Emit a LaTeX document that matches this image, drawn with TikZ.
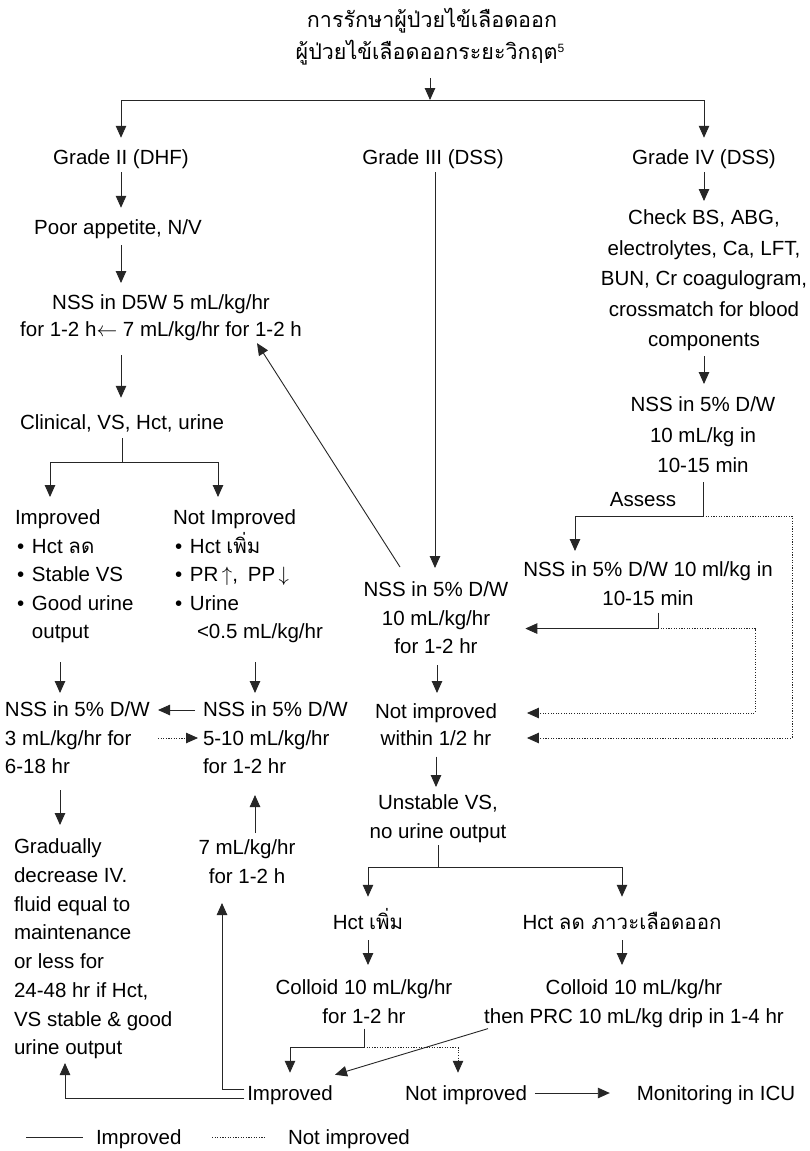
\documentclass[tikz,border=0pt]{standalone}
\usepackage{fontspec}
\setmainfont{Liberation Sans}
\newfontfamily\thai[Script=Thai]{Loma}
\usetikzlibrary{arrows.meta,calc}
\newcommand{\bul}{\makebox[17pt][l]{\hspace{2pt}\textbullet}}
\begin{document}
\begin{tikzpicture}[x=1pt,y=-1pt,
  every node/.style={inner sep=0pt, outer sep=0pt, font=\fontsize{20.5}{28.5}\selectfont},
  sl/.style={text height=14.5pt, text depth=4pt},
  ml/.style={align=center, anchor=north},
  mll/.style={align=left, anchor=north west},
  ln/.style={line width=0.9pt, draw=black!85},
  arr/.style={ln, -{Triangle[length=12pt,width=10.5pt]}},
  dot/.style={ln, line width=0.8pt, dash pattern=on 1.1pt off 1.5pt},
  darr/.style={dot, -{Triangle[length=12pt,width=10.5pt]}},
  ttl/.style={font=\fontsize{21.5}{30}\selectfont},
]
\fill[white] (0,0) rectangle (810,1151);
\useasboundingbox (0,0) rectangle (810,1151);

% title
\node[ttl] (t1) at (432,21) {\thai การรักษาผู้ป่วยไข้เลือดออก};
\node[ttl] (t2) at (430,53) {{\thai ผู้ป่วยไข้เลือดออกระยะวิกฤต}\raisebox{7pt}{\fontsize{12}{12}\selectfont 5}};
\coordinate (hub) at (430,100);

% grades
\node[sl] (g2) at (121,159) {Grade II (DHF)};
\node[sl] (g3) at (433,159) {Grade III (DSS)};
\node[sl] (g4) at (704,159) {Grade IV (DSS)};
\draw[arr] (hub) ++(0,-22) -- (hub);
\draw[ln] (hub -| g2) -- (hub -| g4);
\draw[arr] (hub -| g2) -- ([yshift=12pt]g2.north);
\draw[arr] (hub -| g4) -- ([yshift=12pt]g4.north);

% Grade II column
\node[sl] (poor) at (118,229) {Poor appetite, N/V};
\draw[arr] ([yshift=-4pt]g2.south) -- ([yshift=12pt]g2.south |- poor.north);
\node[ml, font=\fontsize{20.5}{27}\selectfont] (nssA) at (161,295) {NSS in D5W 5 mL/kg/hr\\for 1-2 h$\leftarrow$ 7 mL/kg/hr for 1-2 h};
\draw[arr] ([yshift=-7pt]g2.south |- poor.south) -- ([yshift=12pt]g2.south |- nssA.north);
\node[sl] (clin) at (122,424) {Clinical, VS, Hct, urine};
\draw[arr] ([yshift=-14pt]g2.south |- nssA.south) -- ([yshift=17pt]g2.south |- clin.north);
\draw[ln] ([yshift=-5pt]clin.south) -- ([yshift=-29pt]clin.south) coordinate (b1);
\node[mll] (imp) at (15,510) {Improved\\\bul Hct {\thai ลด}\\\bul Stable VS\\\bul Good urine\\\hspace*{17pt}output};
\node[mll] (nimp) at (173,510) {Not Improved\\\bul Hct {\thai เพิ่ม}\\\bul PR\,$\uparrow$,\hspace{10pt}PP\,$\downarrow$\\\bul Urine\\\hspace*{24pt}<0.5 mL/kg/hr};
\draw[arr] (b1) -| ([xshift=35pt,yshift=13pt]imp.north west);
\draw[arr] (b1) -| ([xshift=45pt,yshift=13pt]nimp.north west);

\node[mll] (nssL) at (5,702) {NSS in 5\% D/W\\3 mL/kg/hr for\\6-18 hr};
\node[mll] (nssM) at (203,702) {NSS in 5\% D/W\\5-10 mL/kg/hr\\for 1-2 hr};
\draw[arr] ([xshift=45pt,yshift=-19pt]imp.south west) -- ([xshift=55pt,yshift=9pt]nssL.north west);
\draw[arr] ([xshift=82pt,yshift=-19pt]nimp.south west) -- ([xshift=52pt,yshift=9pt]nssM.north west);
\draw[arr] ([xshift=-8pt,yshift=-8pt]nssM.north west) -- ([xshift=153pt,yshift=-8pt]nssL.north west);
\draw[darr] ([xshift=153pt,yshift=-36pt]nssL.north west) -- ([xshift=-5pt,yshift=-36pt]nssM.north west);

\node[mll, font=\fontsize{20.5}{28.7}\selectfont] (grad) at (14,839) {Gradually\\decrease IV.\\fluid equal to\\maintenance\\or less for\\24-48 hr if Hct,\\VS stable \& good\\urine output};
\draw[arr] ([xshift=55pt,yshift=-88pt]nssL.north west) -- ([xshift=46pt,yshift=14pt]grad.north west);
\node[ml] (sev) at (247,840) {7 mL/kg/hr\\for 1-2 h};
\draw[arr] ([xshift=8pt,yshift=7pt]sev.north) -- ([xshift=52pt,yshift=-93pt]nssM.north west);

% Grade III column
\node[ml] (nssC) at (436,582) {NSS in 5\% D/W\\10 mL/kg/hr\\for 1-2 hr};
\draw[arr] ([xshift=2pt,yshift=-4pt]g3.south) -- ([xshift=2pt,yshift=14pt]g3.south |- nssC.north);
\draw[arr] ([xshift=-36pt,yshift=15pt]nssC.north) -- ([xshift=96pt,yshift=-2pt]nssA.south);
\node[ml, font=\fontsize{20.5}{26.5}\selectfont] (ni) at (436,704) {Not improved\\within 1/2 hr};
\draw[arr] ([xshift=1pt,yshift=-11pt]nssC.south) -- ([xshift=1pt,yshift=11pt]nssC.south |- ni.north);
\node[ml, font=\fontsize{20.5}{29}\selectfont] (unst) at (438,795) {Unstable VS,\\no urine output};
\draw[arr] ([yshift=-11pt]ni.south) -- ([yshift=8pt]ni.south |- unst.north);
\draw[ln] ([yshift=-2pt]unst.south) -- ([yshift=-24pt]unst.south) coordinate (b2);
\node[sl] (hp) at (368,924) {Hct {\thai เพิ่ม}};
\node[sl] (hl) at (622,924) {Hct {\thai ลด ภาวะเลือดออก}};
\draw[arr] (b2) -| ([yshift=18pt]hp.north);
\draw[arr] (b2) -| ([yshift=18pt]hl.north);
\node[ml] (colL) at (364,980) {Colloid 10 mL/kg/hr\\for 1-2 hr};
\node[ml] (colR) at (634,980) {Colloid 10 mL/kg/hr\\then PRC 10 mL/kg drip in 1-4 hr};
\draw[arr] ([yshift=-7pt]hp.south) -- ([yshift=15pt]hp.south |- colL.north);
\draw[arr] ([yshift=-7pt]hl.south) -- ([yshift=15pt]hl.south |- colR.north);
\draw[ln] ([yshift=-5pt]colL.south) -- ([yshift=-24pt]colL.south) coordinate (b3);

% bottom row
\node[sl] (impB) at (290,1095) {Improved};
\node[sl] (nib) at (466,1095) {Not improved};
\node[sl] (icu) at (716,1095) {Monitoring in ICU};
\draw[arr] (b3) -| ([yshift=13pt]impB.north);
\draw[darr] (b3) -| ([xshift=-8pt,yshift=13pt]nib.north);
\draw[arr] ([xshift=-146pt,yshift=-1pt]colR.south) -- ([xshift=45pt,yshift=11pt]impB.north);
\draw[arr] ([xshift=8pt,yshift=2pt]nib.east) -- ([xshift=-27pt,yshift=2pt]icu.west);
\draw[arr] ([xshift=-3pt,yshift=6pt]impB.west) -| ([xshift=-25pt,yshift=-63pt]sev.north);
\draw[arr] ([xshift=-3pt,yshift=-3pt]impB.west) -| ([xshift=51pt,yshift=-4pt]grad.south west);

% Grade IV column
\node[ml, font=\fontsize{20.5}{30.5}\selectfont] (chk) at (704,210) {Check BS, ABG,\\electrolytes, Ca, LFT,\\BUN, Cr coagulogram,\\crossmatch for blood\\components};
\draw[arr] ([yshift=-4pt]g4.south) -- ([yshift=9pt]g4.south |- chk.north);
\node[ml, font=\fontsize{20.5}{30.5}\selectfont] (nss4) at (703,397) {NSS in 5\% D/W\\10 mL/kg in\\10-15 min};
\draw[arr] ([yshift=-5pt]chk.south) -- ([yshift=13pt]chk.south |- nss4.north);
\draw[ln] ([yshift=-9pt]nss4.south) -- ([yshift=-43pt]nss4.south) coordinate (b4);
\node[sl] (assess) at (643,501) {Assess};
\node[ml] (nss4b) at (648,562) {NSS in 5\% D/W 10 ml/kg in\\10-15 min};
\draw[arr] (b4) -| ([xshift=-73pt,yshift=11pt]nss4b.north);
\draw[darr] (b4) -- ++(89,0) |- ([xshift=30pt,yshift=-34pt]ni.north east);
\draw[ln] ([xshift=10pt,yshift=-7pt]nss4b.south) -- ([xshift=10pt,yshift=-23pt]nss4b.south) coordinate (b5);
\draw[arr] (b5) -- ([xshift=17pt]b5 -| nssC.east);
\draw[darr] (b5) -- ++(97,0) |- ([xshift=30pt,yshift=-9pt]ni.north east);

% legend
\node[sl, anchor=west] (legI) at (96,1139) {Improved};
\node[sl, anchor=west] (legN) at (288,1139) {Not improved};
\draw[ln] ([xshift=-70pt,yshift=2pt]legI.west) -- ([xshift=-13pt,yshift=2pt]legI.west);
\draw[dot] ([xshift=-76pt,yshift=2pt]legN.west) -- ([xshift=-23pt,yshift=2pt]legN.west);
\end{tikzpicture}
\end{document}
